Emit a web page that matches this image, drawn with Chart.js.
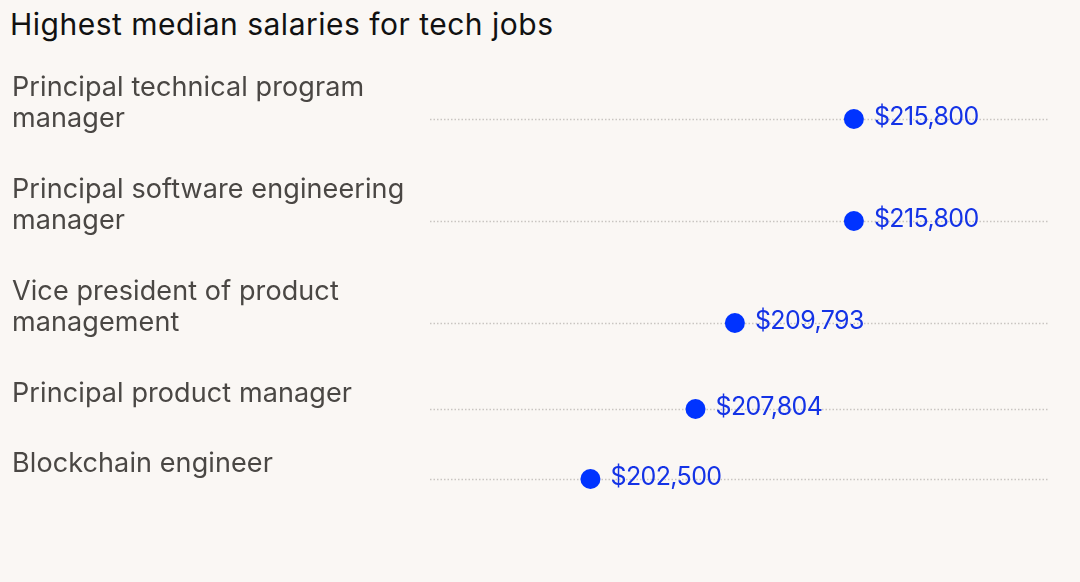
<!DOCTYPE html>
<html lang="en">
<head>
  <meta charset="UTF-8" />
  <title>Highest median salaries for tech jobs</title>
  <script src="https://cdn.jsdelivr.net/npm/chart.js"></script>
  <style>
    html, body { margin: 0; padding: 0; background: #faf7f4; }
    .wrap { position: relative; width: 1080px; height: 582px; }
    h1 {
      position: absolute; left: 10px; top: 6px; margin: 0;
      font-family: Inter, "Noto Sans", sans-serif; font-weight: 400;
      font-size: 30px; letter-spacing: 0.5px; color: #111;
    }
    canvas { position: absolute; left: 0; top: 0; }
  </style>
</head>
<body>
  <div class="wrap">
    <h1>Highest median salaries for tech jobs</h1>
    <canvas id="grafico" width="1080" height="582"></canvas>
  </div>

<script>
// dados do grafico
const cargos = [
  ['Principal technical program', 'manager'],
  ['Principal software engineering', 'manager'],
  ['Vice president of product', 'management'],
  ['Principal product manager'],
  ['Blockchain engineer']
];
const salarios = [215800, 215800, 209793, 207804, 202500];
const eixoMin = 194400;
const eixoMax = 225600;

// altura de cada linha depende de quantas linhas o rotulo tem
const alturas = cargos.map(c => c.length * 32 + 38);
const topos = [];
const centros = [];
let acumulado = 0;
for (let i = 0; i < alturas.length; i++) {
  topos.push(acumulado);
  centros.push(acumulado + alturas[i] / 2);
  acumulado += alturas[i];
}

const pontos = salarios.map((s, i) => ({ x: s, y: centros[i] }));

const fmt = v => '$' + v.toLocaleString('en-US');

// linhas pontilhadas, rotulos e valores
const desenhos = {
  id: 'desenhos',
  beforeDatasetsDraw(chart) {
    const ctx = chart.ctx;
    const area = chart.chartArea;
    const y = chart.scales.y;
    ctx.save();
    ctx.strokeStyle = '#c9c5c1';
    ctx.lineWidth = 1.3;
    ctx.setLineDash([1.5, 2]);
    centros.forEach(c => {
      const py = Math.round(y.getPixelForValue(c)) + 0.5;
      ctx.beginPath();
      ctx.moveTo(area.left, py);
      ctx.lineTo(area.right, py);
      ctx.stroke();
    });
    ctx.restore();
  },
  afterDatasetsDraw(chart) {
    const ctx = chart.ctx;
    const x = chart.scales.x;
    const y = chart.scales.y;
    ctx.save();
    ctx.font = '400 27px Inter, "Noto Sans", sans-serif';
    ctx.letterSpacing = '0.1px';
    ctx.fillStyle = '#4a4744';
    ctx.textBaseline = 'middle';
    ctx.textAlign = 'left';
    cargos.forEach((linhas, i) => {
      const base = y.getPixelForValue(topos[i]) + 20;
      linhas.forEach((t, j) => ctx.fillText(t, 12, base + j * 31));
    });
    ctx.font = '400 25px Inter, "Noto Sans", sans-serif';
    ctx.letterSpacing = '-0.6px';
    ctx.fillStyle = '#1433e6';
    salarios.forEach((s, i) => {
      ctx.fillText(fmt(s), x.getPixelForValue(s) + 20, y.getPixelForValue(centros[i]) - 2);
    });
    ctx.restore();
  }
};

new Chart(document.getElementById('grafico'), {
  type: 'scatter',
  data: {
    datasets: [{
      data: pontos,
      backgroundColor: '#0033ff',
      borderWidth: 0,
      pointRadius: 10,
      pointHoverRadius: 10,
      clip: false
    }]
  },
  options: {
    responsive: false,
    animation: false,
    events: [],
    layout: { padding: { left: 430, right: 32, top: 68, bottom: 68 } },
    plugins: {
      legend: { display: false },
      tooltip: { enabled: false }
    },
    scales: {
      x: { type: 'linear', min: eixoMin, max: eixoMax, display: false },
      y: { type: 'linear', min: 0, max: acumulado, reverse: true, display: false }
    }
  },
  plugins: [desenhos]
});
</script>
</body>
</html>
